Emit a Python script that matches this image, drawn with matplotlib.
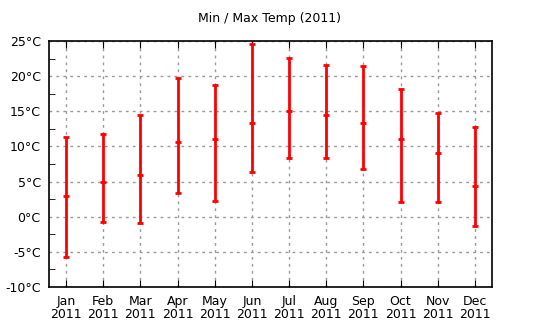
import matplotlib
matplotlib.use("Agg")
import matplotlib.pyplot as plt
import numpy as np

months = ["Jan", "Feb", "Mar", "Apr", "May", "Jun",
          "Jul", "Aug", "Sep", "Oct", "Nov", "Dec"]
year = "2011"
t_min = [-5.7, -0.7, -0.9, 3.4, 2.3, 6.4, 8.3, 8.3, 6.8, 2.1, 2.1, -1.3]
t_mid = [2.9, 4.9, 5.9, 10.7, 11.1, 13.4, 15.1, 14.4, 13.4, 11.0, 9.1, 4.4]
t_max = [11.3, 11.8, 14.5, 19.8, 18.8, 24.6, 22.6, 21.6, 21.5, 18.2, 14.8, 12.8]
y_ticks = [-10, -5, 0, 5, 10, 15, 20, 25]

fig = plt.figure(figsize=(5.4, 3.3), dpi=100)
ax = fig.add_axes([0.0907, 0.1303, 0.8204, 0.7455])

x = np.arange(len(months))
mid = np.array(t_mid)
err = [mid - np.array(t_min), np.array(t_max) - mid]
ax.errorbar(x, mid, yerr=err, fmt='_', color='#ff0000', ecolor='#ff0000',
            elinewidth=2, capsize=2, capthick=2, markersize=4, mew=2, zorder=3)

ax.set_xlim(-0.46, 11.46)
ax.set_ylim(-10, 25)
ax.set_xticks(x)
ax.set_xticklabels([m + "\n" + year for m in months], fontsize=9, linespacing=1.0)
ax.set_yticks(y_ticks)
ax.set_yticklabels([f"{v}°C" for v in y_ticks], fontsize=9)
ax.set_yticks(np.arange(-7.5, 25, 5), minor=True)

ax.grid(True, color='#999999', linestyle=(0, (2, 3)), linewidth=1)
ax.tick_params(axis='both', which='both', direction='in', top=True, right=False)
ax.tick_params(axis='x', length=5, pad=6)
ax.tick_params(axis='y', which='major', length=0, pad=6)
ax.tick_params(axis='y', which='minor', length=4)
for s in ax.spines.values():
    s.set_linewidth(1.2)

fig.suptitle("Min / Max Temp (2011)", fontsize=9, y=0.965)
fig.savefig("out.png", dpi=100)
